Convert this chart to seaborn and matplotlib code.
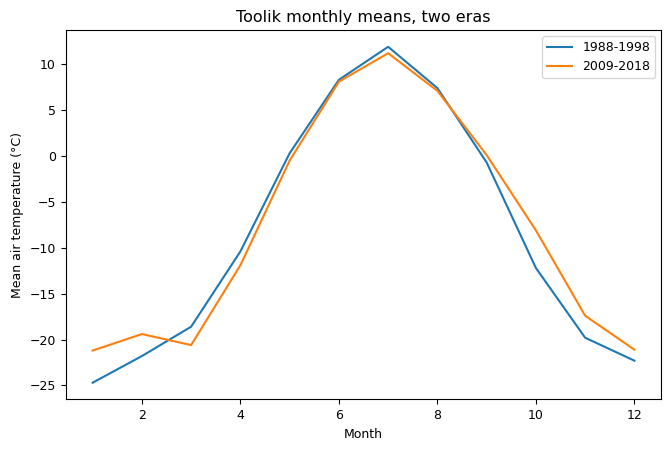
import numpy as np
import pandas as pd
import matplotlib
matplotlib.use("Agg")
import matplotlib.pyplot as plt
import seaborn as sns

months = list(range(1, 13))
era_early = [-24.7, -21.8, -18.6, -10.4, 0.3, 8.3, 11.9, 7.4, -0.7, -12.2, -19.8, -22.3]
era_late = [-21.2, -19.4, -20.6, -11.9, -0.5, 8.1, 11.2, 7.1, 0.1, -8.1, -17.4, -21.1]
era_labels = ["1988-1998", "2009-2018"]

df = pd.DataFrame({
    "Month": months * 2,
    "Temp": era_early + era_late,
    "Era": [era_labels[0]] * 12 + [era_labels[1]] * 12,
})

plt.rcParams["font.size"] = 9

fig, ax = plt.subplots(figsize=(6.70, 4.51), dpi=100)
sns.lineplot(data=df, x="Month", y="Temp", hue="Era", ax=ax,
             palette=["#1f77b4", "#ff7f0e"], linewidth=1.5)
ax.set_title("Toolik monthly means, two eras", fontsize=11.5)
ax.set_xlabel("Month", fontsize=9)
ax.set_ylabel("Mean air temperature (°C)", fontsize=9)
ax.tick_params(labelsize=9)
ax.legend(title=None, loc="upper right", fontsize=9)
fig.subplots_adjust(left=0.0978, right=0.9873, top=0.9335, bottom=0.1142)
fig.savefig("out.png", dpi=100)
